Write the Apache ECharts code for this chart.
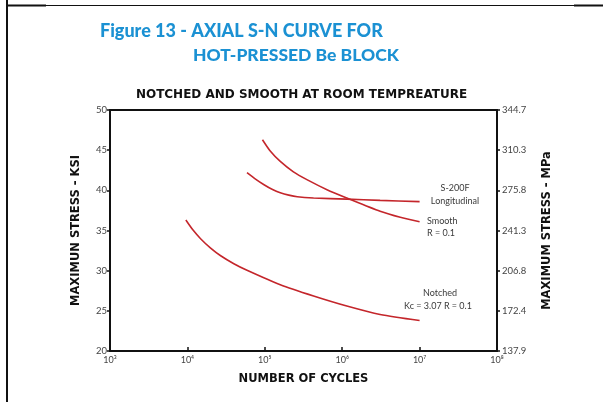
<!DOCTYPE html>
<html><head><meta charset="utf-8">
<script src="https://cdn.jsdelivr.net/npm/echarts@6/dist/echarts.min.js"></script>
<style>html,body{margin:0;padding:0;background:#fff}#c{width:603px;height:402px}</style>
</head><body><div id="c"></div>
<script>
const xTickLabels = {3:'10³',4:'10⁴',5:'10⁵',6:'10⁶',7:'10⁷',8:'10⁸'};
const ksiTicks = [20,25,30,35,40,45,50];
const mpaTickLabels = ['137.9','172.4','206.8','241.3','275.8','310.3','344.7'];
const notched = [[9550,36.3],[11750,35.08],[14800,33.98],[19950,32.81],[26900,31.86],[39810,30.87],[58900,30.05],[158500,28.25],[426600,26.85],[1148000,25.6],[3090000,24.55],[1e7,23.8]];
const smooth = [[93300,46.3],[117500,44.9],[158500,43.6],[234400,42.3],[354800,41.3],[645700,40.05],[1148000,39.05],[3090000,37.4],[5623000,36.65],[1e7,36.1]];
const s200f = [[58900,42.2],[75860,41.4],[97700,40.7],[125900,40.1],[158500,39.7],[204200,39.4],[263000,39.2],[426600,39.05],[1148000,38.9],[3090000,38.75],[1e7,38.6]];

const RED = '#c4262b';
const FONT = 'Lato, "DejaVu Sans", sans-serif';
const HEAVY = '"DejaVu Sans", sans-serif';
const chart = echarts.init(document.getElementById('c'));
const lineSeries = (name, data) => ({
  name, type:'line', data, smooth:0.25, showSymbol:false, symbol:'none',
  lineStyle:{color:RED, width:1.6}, xAxisIndex:0, yAxisIndex:0, silent:true
});
const labelStyle = {fill:'#3a3a3a', font:'9px ' + FONT, textAlign:'center', textVerticalAlign:'middle'};
const txt = (s, x, y, extra) => ({type:'text', x, y, style:Object.assign({}, labelStyle, {text:s}, extra||{})});
const nameStyle = {color:'#111', fontFamily:HEAVY, fontWeight:'bold', fontSize:11.5};
chart.setOption({
  animation:false,
  backgroundColor:'#fff',
  title:[
    {text:'Figure 13 - AXIAL S-N CURVE FOR', left:95, top:17, textStyle:{color:'#1b91d3', fontFamily:FONT, fontWeight:900, fontSize:18}},
    {text:'HOT-PRESSED Be BLOCK', left:188, top:41, textStyle:{color:'#1b91d3', fontFamily:FONT, fontWeight:900, fontSize:17.5}},
    {text:'NOTCHED AND SMOOTH AT ROOM TEMPREATURE', left:'center', top:84, textStyle:{color:'#111', fontFamily:HEAVY, fontWeight:'bold', fontSize:12}}
  ],
  grid:{left:110, right:106, top:110, bottom:51},
  xAxis:[
    {type:'log', logBase:10, min:1e3, max:1e8, position:'bottom',
     axisLine:{lineStyle:{color:'#111', width:2}},
     axisTick:{inside:true, length:4, lineStyle:{color:'#111', width:1.5}},
     axisLabel:{formatter:v => xTickLabels[Math.round(Math.log10(v))] || '', fontSize:9, color:'#444', fontFamily:FONT, margin:5},
     splitLine:{show:false}, minorTick:{show:false},
     name:'NUMBER OF CYCLES', nameLocation:'middle', nameGap:22, nameTextStyle:nameStyle},
    {type:'log', logBase:10, min:1e3, max:1e8, position:'top',
     axisLine:{lineStyle:{color:'#111', width:2}}, axisTick:{show:false}, axisLabel:{show:false}, splitLine:{show:false}}
  ],
  yAxis:[
    {type:'value', min:20, max:50, interval:5, position:'left',
     axisLine:{show:true, lineStyle:{color:'#111', width:2}},
     axisTick:{show:true, length:3, lineStyle:{color:'#111', width:1.5}},
     axisLabel:{fontSize:9.5, color:'#444', fontFamily:FONT, margin:3},
     splitLine:{show:false},
     name:'MAXIMUN STRESS - KSI', nameLocation:'middle', nameGap:28, nameRotate:90, nameTextStyle:nameStyle},
    {type:'value', min:20, max:50, interval:5, position:'right',
     axisLine:{show:true, lineStyle:{color:'#111', width:2}},
     axisTick:{show:true, length:3, lineStyle:{color:'#111', width:1.5}},
     axisLabel:{fontSize:9.5, color:'#444', fontFamily:FONT, margin:5,
       formatter:v => { const i = ksiTicks.indexOf(v); return i >= 0 ? mpaTickLabels[i] : ''; }},
     splitLine:{show:false},
     name:'MAXIMUM STRESS - MPa', nameLocation:'middle', nameGap:44, nameRotate:90, nameTextStyle:nameStyle}
  ],
  series:[
    lineSeries('Notched', notched),
    lineSeries('Smooth', smooth),
    lineSeries('S-200F', s200f)
  ],
  graphic:[
    {type:'line', shape:{x1:7, y1:0, x2:7, y2:402}, style:{stroke:'#111', lineWidth:2}},
    {type:'line', shape:{x1:7, y1:5.5, x2:603, y2:5.5}, style:{stroke:'#111', lineWidth:1}},
    {type:'line', shape:{x1:7, y1:5.5, x2:46, y2:5.5}, style:{stroke:'#111', lineWidth:2}},
    {type:'line', shape:{x1:574, y1:5.5, x2:603, y2:5.5}, style:{stroke:'#111', lineWidth:2}},
    txt('S-200F', 455, 188),
    txt('Longitudinal', 455, 201),
    txt('Smooth', 427, 221, {textAlign:'left'}),
    txt('R = 0.1', 427, 233, {textAlign:'left'}),
    txt('Notched', 440, 293),
    txt('Kc = 3.07 R = 0.1', 438, 306)
  ]
});
</script>
</body></html>
